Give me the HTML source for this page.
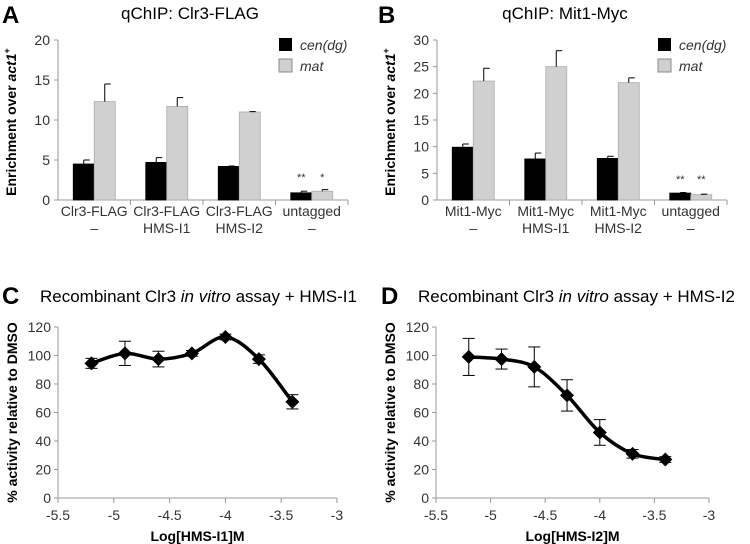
<!DOCTYPE html>
<html><head><meta charset="utf-8"><style>
html,body{margin:0;padding:0;background:#fff}
svg{display:block;font-family:"Liberation Sans",Arial,sans-serif}
</style></head><body>
<svg id="fig" width="750" height="544" viewBox="0 0 750 544">
<g font-weight="bold" font-size="24" fill="#000">
<text x="2" y="23">A</text>
<text x="378" y="23">B</text>
<text x="2" y="304">C</text>
<text x="381" y="304">D</text>
</g>
<g font-size="17" fill="#000">
<text x="190" y="19" text-anchor="middle">qChIP: Clr3-FLAG</text>
<text x="565" y="19" text-anchor="middle">qChIP: Mit1-Myc</text>
<text x="40" y="302" font-size="17">Recombinant Clr3 <tspan font-style="italic">in vitro</tspan> assay + HMS-I1</text>
<text x="418" y="302" font-size="17">Recombinant Clr3 <tspan font-style="italic">in vitro</tspan> assay + HMS-I2</text>
</g>
</svg>
<script>
const barCats = ["Clr3-FLAG|–","Clr3-FLAG|HMS-I1","Clr3-FLAG|HMS-I2","untagged|–"];
const aCen = [4.5,4.7,4.2,0.9];
const aCenErr = [0.5,0.6,0.05,0.2];
const aMat = [12.3,11.7,11.0,1.1];
const aMatErr = [2.2,1.1,0.05,0.2];
const aStars = ["","","","**|*"];
const aTicks = [0,5,10,15,20];
const bCats = ["Mit1-Myc|–","Mit1-Myc|HMS-I1","Mit1-Myc|HMS-I2","untagged|–"];
const bCen = [9.9,7.7,7.8,1.3];
const bCenErr = [0.6,1.1,0.4,0.1];
const bMat = [22.3,25.0,22.0,1.0];
const bMatErr = [2.4,3.0,0.9,0.1];
const bStars = ["","","","**|**"];
const bTicks = [0,5,10,15,20,25,30];
const lineX = [-5.2,-4.9,-4.6,-4.3,-4.0,-3.7,-3.4];
const cVals = [94.5,101.5,97.5,101.5,113,97.5,67.5];
const cErr = [3.5,8.5,5.5,2,2,3,5];
const dVals = [99,97.5,92,72,46,31,27];
const dErr = [13,7,14,11,9,3,2];
const lineYTicks = [0,20,40,60,80,100,120];
const lineXTicks = [-5.5,-5,-4.5,-4,-3.5,-3];

const svg = document.getElementById('fig');
const NS = 'http://www.w3.org/2000/svg';
function mk(tag, at, parent){const e=document.createElementNS(NS,tag);for(const k in at)e.setAttribute(k,at[k]);(parent||svg).appendChild(e);return e;}
function txt(s, at, parent){const e=mk('text',at,parent);e.textContent=s;return e;}

function barChart(name, cats, cen, cenErr, mat, matErr, stars, ticks, x0, x1, y0, y1, ymax){
  const g = mk('g',{});
  
  
  const ys = v => y0 - (v/ymax)*(y0-y1);
  mk('line',{x1:x0,y1:y0,x2:x0,y2:y1,stroke:'#999','stroke-width':1},g);
  mk('line',{x1:x0,y1:y0,x2:x1,y2:y0,stroke:'#999','stroke-width':1},g);
  ticks.forEach(t=>{
    mk('line',{x1:x0-4,y1:ys(t),x2:x0,y2:ys(t),stroke:'#999'},g);
    const l=txt(String(t),{x:x0-8,y:ys(t)+5,'text-anchor':'end','font-size':14,fill:'#333'},g);
    
    
  });
  const cw=(x1-x0)/cats.length, bw=21;
  cats.forEach((c,i)=>{
    const cx=x0+cw*i;
    mk('line',{x1:cx+cw,y1:y0,x2:cx+cw,y2:y0+5,stroke:'#999'},g);
    const mid=cx+cw/2;
    const p=c.split('|');
    const l1=txt(p[0],{x:mid,y:y0+16,'text-anchor':'middle','font-size':14,fill:'#333'},g);
    
    
    txt(p[1],{x:mid,y:y0+33,'text-anchor':'middle','font-size':14,fill:'#333'},g);
    [[cen[i],cenErr[i],'#000','#000',mid-bw],[mat[i],matErr[i],'#d0d0d0','#aaa',mid]].forEach((b,j)=>{
      const r=mk('rect',{x:b[4],y:ys(b[0]),width:bw,height:y0-ys(b[0]),fill:b[2],stroke:b[3],'stroke-width':0.8},g);
      
      
      const ex=b[4]+bw/2, et=ys(b[0]+b[1]);
      mk('line',{x1:ex,y1:ys(b[0]),x2:ex,y2:et,stroke:'#000'},g);
      mk('line',{x1:ex,y1:et,x2:ex+6,y2:et,stroke:'#000'},g);
    });
    if(stars[i]){const s=stars[i].split('|');
      [s[0],s[1]].forEach((st,j)=>{const t=txt(st,{x:mid-bw/2+j*bw,y:ys(Math.max(cen[i],mat[i]))-10,'text-anchor':'middle','font-size':11,fill:'#333'},g);
      
      });
    }
  });
  const lx=x1-69;
  const lg=mk('g',{},g);
  
  
  mk('rect',{x:lx,y:38,width:13,height:13,fill:'#000'},lg);
  txt('cen(dg)',{x:lx+21,y:50,'font-size':14,'font-style':'italic',fill:'#333'},lg);
  mk('rect',{x:lx,y:59,width:13,height:13,fill:'#d0d0d0',stroke:'#888'},lg);
  txt('mat',{x:lx+21,y:71,'font-size':14,'font-style':'italic',fill:'#333'},lg);
  const yl=txt('',{transform:`translate(${x0-42},${(y0+y1)/2+2}) rotate(-90)`,'text-anchor':'middle','font-size':14,'font-weight':'bold'},g);
  yl.innerHTML='Enrichment over <tspan font-style="italic">act1</tspan><tspan font-size="9" dy="-6">+</tspan>';
  
  
}

function lineChart(name, vals, errs, x0, x1, y0, y1, xlabel){
  const g=mk('g',{});
  
  
  const xs=v=>x0+(v+5.5)/2.5*(x1-x0), ys=v=>y0-v/120*(y0-y1);
  mk('line',{x1:x0,y1:y0,x2:x0,y2:y1,stroke:'#999'},g);
  mk('line',{x1:x0,y1:y0,x2:x1,y2:y0,stroke:'#999'},g);
  lineYTicks.forEach(t=>{mk('line',{x1:x0-4,y1:ys(t),x2:x0,y2:ys(t),stroke:'#999'},g);
    const l=txt(String(t),{x:x0-7,y:ys(t)+5,'text-anchor':'end','font-size':14,fill:'#333'},g);
    
    });
  lineXTicks.forEach(t=>{mk('line',{x1:xs(t),y1:y0,x2:xs(t),y2:y0+5,stroke:'#999'},g);
    const l=txt(String(t),{x:xs(t),y:y0+22,'text-anchor':'middle','font-size':14,fill:'#333'},g);
    
    });
  const pts=lineX.map((x,i)=>[xs(x),ys(vals[i])]);
  let d=`M${pts[0][0]},${pts[0][1]}`;
  for(let i=0;i<pts.length-1;i++){
    const p0=pts[Math.max(0,i-1)],p1=pts[i],p2=pts[i+1],p3=pts[Math.min(pts.length-1,i+2)];
    d+=` C${p1[0]+(p2[0]-p0[0])/6},${p1[1]+(p2[1]-p0[1])/6} ${p2[0]-(p3[0]-p1[0])/6},${p2[1]-(p3[1]-p1[1])/6} ${p2[0]},${p2[1]}`;
  }
  const ln=mk('path',{d:d,fill:'none',stroke:'#000','stroke-width':3.5},g);
  
  
  pts.forEach((p,i)=>{
    const t=ys(vals[i]+errs[i]), b=ys(vals[i]-errs[i]);
    mk('line',{x1:p[0],y1:t,x2:p[0],y2:b,stroke:'#000'},g);
    mk('line',{x1:p[0]-6,y1:t,x2:p[0]+6,y2:t,stroke:'#000'},g);
    mk('line',{x1:p[0]-6,y1:b,x2:p[0]+6,y2:b,stroke:'#000'},g);
    const m=mk('path',{d:`M${p[0]},${p[1]-7} L${p[0]+7},${p[1]} L${p[0]},${p[1]+7} L${p[0]-7},${p[1]} Z`,fill:'#000'},g);
    
    
  });
  const xl=txt(xlabel,{x:(x0+x1)/2,y:541,'text-anchor':'middle','font-size':14,'font-weight':'bold'},g);
  
  
  const yl=txt('% activity relative to DMSO',{transform:`translate(${x0-41},${(y0+y1)/2}) rotate(-90)`,'text-anchor':'middle','font-size':14,'font-weight':'bold'},g);
  
  
}

barChart('bar-chart-a',barCats,aCen,aCenErr,aMat,aMatErr,aStars,aTicks,58,348,200,40,20);
barChart('bar-chart-b',bCats,bCen,bCenErr,bMat,bMatErr,bStars,bTicks,437,727,200,40,30);
lineChart('line-chart-c',cVals,cErr,58,337,498,327,'Log[HMS-I1]M');
lineChart('line-chart-d',dVals,dErr,436,709,498,327,'Log[HMS-I2]M');
</script>
</body></html>
